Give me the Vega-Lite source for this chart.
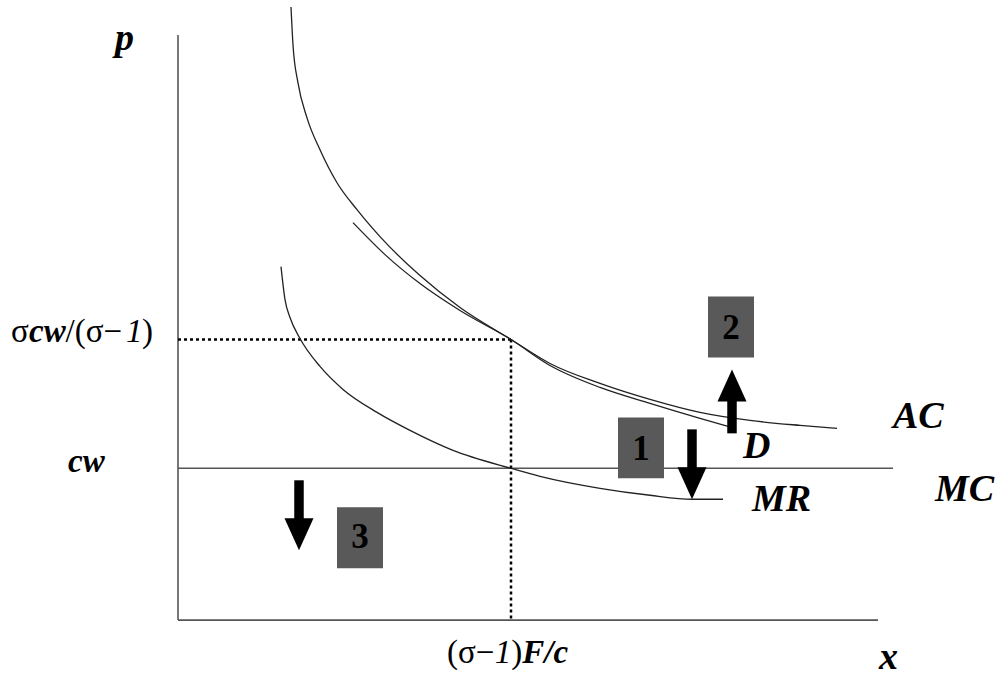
{
  "$schema": "https://vega.github.io/schema/vega-lite/v6.json",
  "width": 1000,
  "height": 677,
  "padding": 0,
  "autosize": {"type": "fit", "contains": "padding"},
  "background": "white",
  "config": {"view": {"stroke": null}},
  "datasets": {
    "segments": [
      {"id": "p-axis", "q": 17.8, "p": 64.2, "q2": 17.8, "p2": 5.6},
      {"id": "x-axis", "q": 17.8, "p": 5.6, "q2": 87.8, "p2": 5.6},
      {"id": "MC", "q": 17.8, "p": 20.8, "q2": 89.3, "p2": 20.8}
    ],
    "dotted": [
      {"id": "price", "q": 17.8, "p": 33.7, "q2": 51.1, "p2": 33.7},
      {"id": "output", "q": 51.1, "p": 33.7, "q2": 51.1, "p2": 5.6}
    ],
    "curves": [
      {"curve": "AC", "q": 29.1, "p": 67.0},
      {"curve": "AC", "q": 29.3, "p": 63.2},
      {"curve": "AC", "q": 29.8, "p": 59.4},
      {"curve": "AC", "q": 30.7, "p": 55.9},
      {"curve": "AC", "q": 32.0, "p": 52.7},
      {"curve": "AC", "q": 33.7, "p": 49.4},
      {"curve": "AC", "q": 35.7, "p": 46.7},
      {"curve": "AC", "q": 38.0, "p": 44.0},
      {"curve": "AC", "q": 42.0, "p": 40.1},
      {"curve": "AC", "q": 46.0, "p": 36.9},
      {"curve": "AC", "q": 51.1, "p": 33.7},
      {"curve": "AC", "q": 55.0, "p": 31.3},
      {"curve": "AC", "q": 60.0, "p": 29.3},
      {"curve": "AC", "q": 65.0, "p": 27.7},
      {"curve": "AC", "q": 70.0, "p": 26.4},
      {"curve": "AC", "q": 75.0, "p": 25.6},
      {"curve": "AC", "q": 80.0, "p": 25.1},
      {"curve": "AC", "q": 83.7, "p": 24.8},
      {"curve": "D", "q": 35.3, "p": 45.4},
      {"curve": "D", "q": 38.5, "p": 42.2},
      {"curve": "D", "q": 42.0, "p": 39.3},
      {"curve": "D", "q": 46.0, "p": 36.6},
      {"curve": "D", "q": 51.1, "p": 33.7},
      {"curve": "D", "q": 55.0, "p": 31.1},
      {"curve": "D", "q": 60.0, "p": 28.9},
      {"curve": "D", "q": 65.0, "p": 27.3},
      {"curve": "D", "q": 70.0, "p": 25.8},
      {"curve": "D", "q": 72.8, "p": 25.0},
      {"curve": "MR", "q": 28.1, "p": 41.0},
      {"curve": "MR", "q": 28.5, "p": 37.7},
      {"curve": "MR", "q": 29.0, "p": 35.9},
      {"curve": "MR", "q": 30.0, "p": 33.8},
      {"curve": "MR", "q": 32.0, "p": 31.0},
      {"curve": "MR", "q": 34.3, "p": 28.7},
      {"curve": "MR", "q": 37.7, "p": 26.4},
      {"curve": "MR", "q": 41.0, "p": 24.6},
      {"curve": "MR", "q": 45.3, "p": 22.6},
      {"curve": "MR", "q": 51.1, "p": 20.8},
      {"curve": "MR", "q": 54.0, "p": 20.0},
      {"curve": "MR", "q": 60.0, "p": 18.8},
      {"curve": "MR", "q": 65.0, "p": 18.1},
      {"curve": "MR", "q": 69.2, "p": 17.7},
      {"curve": "MR", "q": 72.3, "p": 17.7}
    ],
    "boxes": [
      {"label": "1", "q": 61.8, "q2": 66.4, "p": 25.9, "p2": 19.8, "qc": 64.1, "pt": 21.6},
      {"label": "2", "q": 70.8, "q2": 75.4, "p": 38.0, "p2": 31.9, "qc": 73.1, "pt": 33.7},
      {"label": "3", "q": 33.7, "q2": 38.3, "p": 16.9, "p2": 10.8, "qc": 36.0, "pt": 12.8}
    ],
    "arrows": [
      {"arrow": "1", "q": 69.2, "tail": 24.7, "head": 19.3, "dir": "down"},
      {"arrow": "2", "q": 73.2, "tail": 24.3, "head": 29.1, "dir": "up"},
      {"arrow": "3", "q": 29.9, "tail": 19.6, "head": 14.2, "dir": "down"}
    ],
    "titles": [
      {"text": "p", "q": 11.5, "p": 62.7},
      {"text": "x", "q": 87.9, "p": 0.7},
      {"text": "AC", "q": 89.3, "p": 24.8},
      {"text": "D", "q": 74.3, "p": 21.8},
      {"text": "MC", "q": 93.5, "p": 17.5},
      {"text": "MR", "q": 75.2, "p": 16.5}
    ],
    "tickParts": [
      {"text": "σ", "kind": "symbol", "q": 1.1, "p": 33.4},
      {"text": "cw", "kind": "variable", "q": 2.9, "p": 33.4},
      {"text": "/(σ−", "kind": "symbol", "q": 6.55, "p": 33.4},
      {"text": "1", "kind": "number", "q": 12.6, "p": 33.4},
      {"text": ")", "kind": "symbol", "q": 14.2, "p": 33.4},
      {"text": "cw", "kind": "variable", "q": 6.8, "p": 20.4},
      {"text": "(σ−", "kind": "symbol", "q": 44.7, "p": 1.3},
      {"text": "1", "kind": "number", "q": 49.48, "p": 1.3},
      {"text": ")", "kind": "symbol", "q": 51.13, "p": 1.3},
      {"text": "F/c", "kind": "variable", "q": 52.23, "p": 1.3}
    ]
  },
  "layer": [
    {
      "data": {"name": "segments"},
      "mark": {"type": "rule", "color": "#555555", "strokeWidth": 1.6},
      "encoding": {
        "x": {"field": "q", "type": "quantitative", "scale": {"domain": [0, 100]}, "axis": null},
        "y": {"field": "p", "type": "quantitative", "scale": {"domain": [0, 67.7]}, "axis": null},
        "x2": {"field": "q2"},
        "y2": {"field": "p2"}
      }
    },
    {
      "data": {"name": "dotted"},
      "mark": {"type": "rule", "color": "#000000", "strokeWidth": 2.5, "strokeDash": [3, 3]},
      "encoding": {
        "x": {"field": "q", "type": "quantitative", "scale": {"domain": [0, 100]}, "axis": null},
        "y": {"field": "p", "type": "quantitative", "scale": {"domain": [0, 67.7]}, "axis": null},
        "x2": {"field": "q2"},
        "y2": {"field": "p2"}
      }
    },
    {
      "data": {"name": "curves"},
      "mark": {"type": "line", "color": "#222222", "strokeWidth": 1.3, "interpolate": "monotone"},
      "encoding": {
        "x": {"field": "q", "type": "quantitative", "scale": {"domain": [0, 100]}, "axis": null},
        "y": {"field": "p", "type": "quantitative", "scale": {"domain": [0, 67.7]}, "axis": null},
        "detail": {"field": "curve", "type": "nominal"}
      }
    },
    {
      "data": {"name": "boxes"},
      "mark": {"type": "rect", "color": "#595959"},
      "encoding": {
        "x": {"field": "q", "type": "quantitative", "scale": {"domain": [0, 100]}, "axis": null},
        "y": {"field": "p", "type": "quantitative", "scale": {"domain": [0, 67.7]}, "axis": null},
        "x2": {"field": "q2"},
        "y2": {"field": "p2"}
      }
    },
    {
      "data": {"name": "boxes"},
      "mark": {"type": "text", "font": "Liberation Serif", "fontSize": 35, "fontWeight": "bold", "align": "center", "baseline": "alphabetic", "color": "#000000"},
      "encoding": {
        "x": {"field": "qc", "type": "quantitative", "scale": {"domain": [0, 100]}, "axis": null},
        "y": {"field": "pt", "type": "quantitative", "scale": {"domain": [0, 67.7]}, "axis": null},
        "text": {"field": "label"}
      }
    },
    {
      "data": {"name": "arrows"},
      "mark": {"type": "rule", "color": "#000000", "strokeWidth": 9.5, "strokeCap": "butt"},
      "encoding": {
        "x": {"field": "q", "type": "quantitative", "scale": {"domain": [0, 100]}, "axis": null},
        "y": {"field": "tail", "type": "quantitative", "scale": {"domain": [0, 67.7]}, "axis": null},
        "y2": {"field": "head"}
      }
    },
    {
      "data": {"name": "arrows"},
      "mark": {"type": "point", "filled": true, "color": "#000000", "opacity": 1, "size": 841, "strokeWidth": 0},
      "encoding": {
        "x": {"field": "q", "type": "quantitative", "scale": {"domain": [0, 100]}, "axis": null},
        "y": {"field": "head", "type": "quantitative", "scale": {"domain": [0, 67.7]}, "axis": null},
        "shape": {
          "field": "dir",
          "type": "nominal",
          "scale": {"domain": ["down", "up"], "range": ["M-1,-1.1L1,-1.1L0,1.1Z", "M-1,1.1L1,1.1L0,-1.1Z"]},
          "legend": null
        }
      }
    },
    {
      "data": {"name": "titles"},
      "mark": {"type": "text", "font": "Liberation Serif", "fontSize": 38, "fontWeight": "bold", "fontStyle": "italic", "align": "left", "baseline": "alphabetic", "color": "#000000"},
      "encoding": {
        "x": {"field": "q", "type": "quantitative", "scale": {"domain": [0, 100]}, "axis": null},
        "y": {"field": "p", "type": "quantitative", "scale": {"domain": [0, 67.7]}, "axis": null},
        "text": {"field": "text"}
      }
    },
    {
      "data": {"name": "tickParts"},
      "transform": [{"filter": "datum.kind === 'symbol'"}],
      "mark": {"type": "text", "font": "Liberation Serif", "fontSize": 33, "align": "left", "baseline": "alphabetic", "color": "#000000"},
      "encoding": {
        "x": {"field": "q", "type": "quantitative", "scale": {"domain": [0, 100]}, "axis": null},
        "y": {"field": "p", "type": "quantitative", "scale": {"domain": [0, 67.7]}, "axis": null},
        "text": {"field": "text"}
      }
    },
    {
      "data": {"name": "tickParts"},
      "transform": [{"filter": "datum.kind === 'variable'"}],
      "mark": {"type": "text", "font": "Liberation Serif", "fontSize": 33, "fontWeight": "bold", "fontStyle": "italic", "align": "left", "baseline": "alphabetic", "color": "#000000"},
      "encoding": {
        "x": {"field": "q", "type": "quantitative", "scale": {"domain": [0, 100]}, "axis": null},
        "y": {"field": "p", "type": "quantitative", "scale": {"domain": [0, 67.7]}, "axis": null},
        "text": {"field": "text"}
      }
    },
    {
      "data": {"name": "tickParts"},
      "transform": [{"filter": "datum.kind === 'number'"}],
      "mark": {"type": "text", "font": "Liberation Serif", "fontSize": 33, "fontStyle": "italic", "align": "left", "baseline": "alphabetic", "color": "#000000"},
      "encoding": {
        "x": {"field": "q", "type": "quantitative", "scale": {"domain": [0, 100]}, "axis": null},
        "y": {"field": "p", "type": "quantitative", "scale": {"domain": [0, 67.7]}, "axis": null},
        "text": {"field": "text"}
      }
    }
  ]
}
